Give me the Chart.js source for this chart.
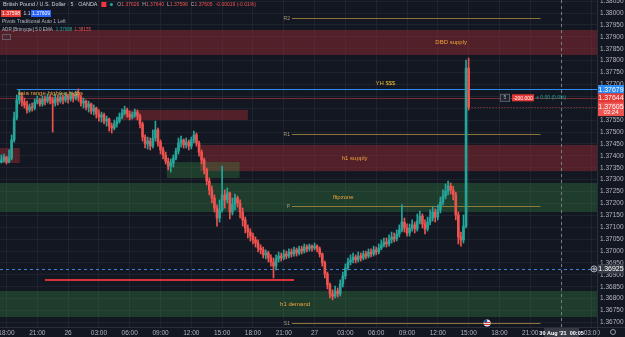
<!DOCTYPE html>
<html>
<head>
<meta charset="utf-8">
<script src="https://cdn.jsdelivr.net/npm/chart.js@4.4.0/dist/chart.umd.min.js"></script>
<style>
html,body{margin:0;padding:0;background:#131722;}
canvas{display:block;}
</style>
</head>
<body>
<canvas id="chart" width="625" height="337"></canvas>
<script>
// GBPUSD, 15-minute candles (time = hours after 25 Aug 18:00)
const firstTime = -0.5;
const barHours = 0.25;
const firstOpen = 1.37374;
const closes = [1.37383,1.37395,1.37374,1.37391,1.37467,1.37559,1.37635,1.37652,1.37626,1.37614,
1.37593,1.37605,1.37601,1.37626,1.37635,1.37618,1.37639,1.37630,1.37647,1.37635,
1.37622,1.37643,1.37630,1.37647,1.37635,1.37652,1.37639,1.37656,1.37643,1.37660,
1.37647,1.37622,1.37630,1.37605,1.37618,1.37588,1.37601,1.37576,1.37563,1.37572,
1.37546,1.37555,1.37525,1.37517,1.37534,1.37546,1.37563,1.37580,1.37593,1.37576,
1.37563,1.37572,1.37584,1.37567,1.37534,1.37479,1.37450,1.37462,1.37441,1.37475,
1.37509,1.37458,1.37425,1.37404,1.37378,1.37357,1.37370,1.37391,1.37420,1.37454,
1.37467,1.37446,1.37458,1.37441,1.37467,1.37488,1.37454,1.37416,1.37383,1.37341,
1.37294,1.37257,1.37223,1.37181,1.37139,1.37173,1.37236,1.37215,1.37244,1.37164,
1.37198,1.37223,1.37202,1.37164,1.37131,1.37097,1.37080,1.37063,1.37047,1.37034,
1.37013,1.37005,1.36984,1.36992,1.36971,1.36954,1.36937,1.36967,1.36979,1.36971,
1.36988,1.36979,1.36996,1.36988,1.37005,1.36992,1.37009,1.37000,1.37017,1.37009,
1.37021,1.37013,1.37021,1.37009,1.36988,1.36950,1.36904,1.36858,1.36820,1.36811,
1.36832,1.36820,1.36862,1.36895,1.36929,1.36954,1.36963,1.36975,1.36963,1.36979,
1.36971,1.36988,1.36979,1.36996,1.36988,1.37005,1.36996,1.37013,1.37026,1.37038,
1.37030,1.37047,1.37059,1.37051,1.37072,1.37089,1.37122,1.37097,1.37076,1.37097,
1.37110,1.37093,1.37126,1.37147,1.37114,1.37093,1.37122,1.37139,1.37164,1.37143,
1.37173,1.37206,1.37231,1.37252,1.37273,1.37257,1.37236,1.37152,1.37059,1.37047,
1.37105,1.37769,1.37605];
const highs = [1.37404,1.37408,1.37399,1.37425,1.37488,1.37584,1.37656,1.37677,1.37664,1.37643,
1.37630,1.37618,1.37622,1.37639,1.37652,1.37643,1.37652,1.37652,1.37660,1.37656,
1.37647,1.37660,1.37656,1.37664,1.37656,1.37664,1.37660,1.37668,1.37664,1.37672,
1.37681,1.37656,1.37643,1.37635,1.37630,1.37622,1.37614,1.37605,1.37593,1.37584,
1.37580,1.37567,1.37559,1.37538,1.37551,1.37563,1.37580,1.37597,1.37609,1.37601,
1.37588,1.37584,1.37597,1.37593,1.37576,1.37542,1.37488,1.37479,1.37475,1.37509,
1.37546,1.37517,1.37467,1.37437,1.37416,1.37391,1.37387,1.37404,1.37433,1.37475,
1.37483,1.37471,1.37475,1.37467,1.37479,1.37504,1.37496,1.37462,1.37425,1.37391,
1.37349,1.37307,1.37273,1.37236,1.37194,1.37215,1.37357,1.37257,1.37265,1.37248,
1.37223,1.37240,1.37231,1.37215,1.37181,1.37143,1.37110,1.37093,1.37076,1.37059,
1.37047,1.37026,1.37017,1.37005,1.37000,1.36984,1.36971,1.36984,1.36996,1.36992,
1.37005,1.37000,1.37009,1.37009,1.37017,1.37013,1.37021,1.37021,1.37030,1.37026,
1.37030,1.37026,1.37034,1.37026,1.37017,1.36992,1.36958,1.36912,1.36866,1.36837,
1.36853,1.36845,1.36879,1.36912,1.36946,1.36971,1.36984,1.36992,1.36984,1.36996,
1.36992,1.37000,1.37000,1.37009,1.37009,1.37021,1.37017,1.37030,1.37047,1.37055,
1.37055,1.37068,1.37080,1.37076,1.37089,1.37110,1.37194,1.37139,1.37114,1.37114,
1.37131,1.37122,1.37156,1.37168,1.37156,1.37131,1.37143,1.37173,1.37185,1.37177,
1.37194,1.37227,1.37257,1.37282,1.37294,1.37286,1.37273,1.37248,1.37164,1.37080,
1.37152,1.37803,1.37811];
const lows = [1.37370,1.37374,1.37366,1.37370,1.37383,1.37458,1.37551,1.37618,1.37609,1.37601,
1.37580,1.37584,1.37588,1.37593,1.37618,1.37609,1.37609,1.37614,1.37622,1.37618,
1.37500,1.37609,1.37614,1.37622,1.37618,1.37626,1.37622,1.37630,1.37626,1.37635,
1.37630,1.37609,1.37601,1.37593,1.37584,1.37576,1.37572,1.37559,1.37546,1.37542,
1.37534,1.37525,1.37504,1.37496,1.37509,1.37521,1.37538,1.37555,1.37572,1.37563,
1.37551,1.37555,1.37563,1.37551,1.37517,1.37462,1.37433,1.37429,1.37425,1.37433,
1.37462,1.37441,1.37408,1.37387,1.37366,1.37341,1.37332,1.37353,1.37383,1.37408,
1.37437,1.37433,1.37433,1.37425,1.37429,1.37454,1.37441,1.37399,1.37366,1.37324,
1.37278,1.37236,1.37202,1.37164,1.37105,1.37122,1.37164,1.37181,1.37202,1.37135,
1.37152,1.37173,1.37185,1.37139,1.37105,1.37076,1.37055,1.37042,1.37030,1.37017,
1.36996,1.36988,1.36971,1.36967,1.36954,1.36937,1.36887,1.36921,1.36954,1.36958,
1.36963,1.36967,1.36971,1.36975,1.36979,1.36979,1.36984,1.36988,1.36992,1.36996,
1.37000,1.37000,1.37005,1.36996,1.36975,1.36937,1.36887,1.36841,1.36803,1.36795,
1.36803,1.36807,1.36811,1.36849,1.36883,1.36921,1.36942,1.36950,1.36950,1.36954,
1.36958,1.36963,1.36967,1.36971,1.36975,1.36979,1.36984,1.36988,1.37005,1.37017,
1.37017,1.37021,1.37034,1.37038,1.37042,1.37059,1.37080,1.37080,1.37063,1.37063,
1.37084,1.37076,1.37084,1.37114,1.37097,1.37072,1.37084,1.37110,1.37126,1.37122,
1.37131,1.37160,1.37194,1.37219,1.37236,1.37240,1.37215,1.37131,1.37030,1.37021,
1.37034,1.37097,1.37593];

// axes
const timeTicks = [0,3,6,9,12,15,18,21,24,27,30,33,36,39,42,45,48,51,54,57];
const timeLabels = ['18:00','21:00','26','03:00','06:00','09:00','12:00','15:00','18:00','21:00','27','03:00','06:00','09:00','12:00','15:00','18:00','21:00','','03:00'];
const priceTicks = [1.3670,1.3675,1.3680,1.3685,1.3690,1.3695,1.3700,1.3705,1.3710,1.3715,1.3720,1.3725,1.3730,1.3735,1.3740,1.3745,1.3750,1.3755,1.3760,1.3765,1.3770,1.3775,1.3780,1.3785,1.3790,1.3795,1.3800,1.3805];
const timeMin = -0.63, timeMax = 57.5;
const priceMin = 1.36681, priceMax = 1.38055;

// drawn zones
const zoneNames = ['DBD supply','h1 supply','flipzone','h1 demand','','',''];
const zoneKind  = ['supply','supply','demand','demand','supply','supply','demand'];
const zoneHigh  = [1.37929,1.37446,1.37286,1.36832,1.37433,1.37593,1.37374];
const zoneLow   = [1.37824,1.37336,1.37164,1.36723,1.37370,1.37551,1.37307];
const zoneFrom  = [-1,18.85,-1,-1,-1,11.25,15.6];
const zoneTo    = [60,60,60,60,1.3,23.5,22.7];
const zoneLabelAt = [43.3,33.9,32.8,28.1,0,0,0];

// pivots
const pivotNames = ['R2','R1','P','S1'];
const pivotPrices = [1.37979,1.37492,1.37189,1.36698];
const pivotFrom = 27.8, pivotTo = 52.0;

// other levels
const yhPrice = 1.37679, yhFrom = 1.0;
const orderPrice = 1.37644;
const lastPrice = 1.37605;
const lowLinePrice = 1.36879, lowLineFrom = 3.75, lowLineTo = 28.0;
const crossPrice = 1.36925, crossTime = 54.0;
const eventTime = 46.8;

const UP = '#26a69a', DOWN = '#ef5350';
const FONT = '"Liberation Sans", Arial, sans-serif';

const times = closes.map((c, i) => firstTime + i * barHours);
const opens = closes.map((c, i) => i === 0 ? firstOpen : closes[i - 1]);
const colors = closes.map((c, i) => c >= opens[i] ? UP : DOWN);

const wickData = times.map((t, i) => ({x: t, y: [lows[i], highs[i]]}));
const bodyData = times.map((t, i) => ({x: t, y: [opens[i], closes[i]]}));

function box(ctx, x, y, w, h, bg, text, fg, font) {
    ctx.fillStyle = bg;
    ctx.fillRect(x, y, w, h);
    ctx.fillStyle = fg;
    ctx.font = font;
    ctx.textAlign = 'center';
    ctx.textBaseline = 'middle';
    ctx.fillText(text, x + w / 2, y + h / 2 + 0.5);
}

const overlays = {
    id: 'overlays',
    beforeDatasetsDraw(chart) {
        const {ctx, chartArea: a, scales: {x, y}} = chart;
        ctx.save();
        ctx.beginPath(); ctx.rect(a.left, a.top, a.width, a.height); ctx.clip();

        zoneNames.forEach((n, i) => {
            const x0 = x.getPixelForValue(zoneFrom[i]), x1 = x.getPixelForValue(zoneTo[i]);
            const y0 = y.getPixelForValue(zoneHigh[i]), y1 = y.getPixelForValue(zoneLow[i]);
            ctx.fillStyle = zoneKind[i] === 'supply' ? 'rgba(160,45,52,0.45)' : 'rgba(60,150,70,0.30)';
            ctx.fillRect(x0, y0, x1 - x0, y1 - y0);
        });

        // pivots
        ctx.lineWidth = 1;
        ctx.strokeStyle = 'rgba(170,140,60,0.8)';
        ctx.font = '5px ' + FONT;
        ctx.textBaseline = 'middle';
        ctx.textAlign = 'right';
        pivotNames.forEach((n, i) => {
            const py = Math.round(y.getPixelForValue(pivotPrices[i])) + 0.5;
            const xa = x.getPixelForValue(pivotFrom), xb = x.getPixelForValue(pivotTo);
            ctx.beginPath(); ctx.moveTo(xa, py); ctx.lineTo(xb, py); ctx.stroke();
            ctx.fillStyle = '#a59a7a';
            ctx.fillText(n, xa - 2, py);
        });

        // order line + yesterday high
        let py = Math.round(y.getPixelForValue(orderPrice)) + 0.5;
        ctx.strokeStyle = 'rgba(200,60,60,0.55)';
        ctx.beginPath(); ctx.moveTo(a.left, py); ctx.lineTo(a.right, py); ctx.stroke();
        py = Math.round(y.getPixelForValue(yhPrice)) + 0.5;
        ctx.strokeStyle = '#2a8af0';
        ctx.beginPath(); ctx.moveTo(x.getPixelForValue(yhFrom), py); ctx.lineTo(a.right, py); ctx.stroke();

        // red low line
        py = y.getPixelForValue(lowLinePrice);
        ctx.strokeStyle = '#d8323a';
        ctx.lineWidth = 2;
        ctx.beginPath(); ctx.moveTo(x.getPixelForValue(lowLineFrom), py); ctx.lineTo(x.getPixelForValue(lowLineTo), py); ctx.stroke();

        // crosshair / dashed horizontal
        ctx.lineWidth = 1;
        ctx.setLineDash([3, 3]);
        py = Math.round(y.getPixelForValue(crossPrice)) + 0.5;
        ctx.strokeStyle = '#3f7fd6';
        ctx.beginPath(); ctx.moveTo(a.left, py); ctx.lineTo(a.right, py); ctx.stroke();
        const cx = Math.round(x.getPixelForValue(crossTime)) + 0.5;
        ctx.strokeStyle = '#787b86';
        ctx.beginPath(); ctx.moveTo(cx, a.top); ctx.lineTo(cx, a.bottom); ctx.stroke();
        // last price line
        py = Math.round(y.getPixelForValue(lastPrice)) + 0.5;
        ctx.strokeStyle = 'rgba(239,83,80,0.7)';
        ctx.setLineDash([1, 2]);
        ctx.beginPath(); ctx.moveTo(x.getPixelForValue(times[times.length - 1]), py); ctx.lineTo(a.right, py); ctx.stroke();
        ctx.setLineDash([]);
        ctx.restore();
    },
    afterDatasetsDraw(chart) {
        const {ctx, chartArea: a, scales: {x, y}} = chart;
        ctx.save();
        ctx.font = '6px ' + FONT;
        ctx.fillStyle = '#f0a33a';
        ctx.textAlign = 'center';
        ctx.textBaseline = 'middle';
        zoneNames.forEach((n, i) => {
            if (!n) return;
            ctx.fillText(n, x.getPixelForValue(zoneLabelAt[i]), y.getPixelForValue((zoneHigh[i] + zoneLow[i]) / 2));
        });
        ctx.fillStyle = '#e8b830';
        ctx.fillText('YH $$$', x.getPixelForValue(36.9), y.getPixelForValue(yhPrice) - 6);
        ctx.textAlign = 'left';
        ctx.fillStyle = '#f0a33a';
        ctx.fillText('asia range high/eq highs', x.getPixelForValue(yhFrom) + 1, y.getPixelForValue(yhPrice) + 4);

        // order labels
        const oy = y.getPixelForValue(orderPrice);
        ctx.strokeStyle = '#5d606b';
        ctx.fillStyle = '#1e222d';
        ctx.fillRect(500.5, oy - 3.5, 9, 7);
        ctx.strokeRect(500.5, oy - 3.5, 9, 7);
        ctx.fillStyle = '#b2b5be';
        ctx.font = '5px ' + FONT;
        ctx.textAlign = 'center';
        ctx.fillText('5', 505, oy);
        box(ctx, 512, oy - 3.5, 22, 7, '#e53935', '-200.000', '#ffffff', '5px ' + FONT);
        ctx.fillStyle = '#26a69a';
        ctx.textAlign = 'left';
        ctx.fillText('+ 0.00 (0.0%)', 536, oy);

        // economic event icon
        const ex = x.getPixelForValue(eventTime), ey = a.bottom - 4;
        ctx.beginPath(); ctx.arc(ex, ey, 3.5, 0, Math.PI * 2); ctx.fillStyle = '#e8e8e8'; ctx.fill();
        ctx.fillStyle = '#d32f2f';
        ctx.fillRect(ex - 3, ey - 1, 6, 1); ctx.fillRect(ex - 3, ey + 1, 6, 1);
        ctx.fillStyle = '#1e4fa0';
        ctx.fillRect(ex - 3, ey - 3, 3, 2.5);
        ctx.restore();
    },
    afterDraw(chart) {
        const {ctx, chartArea: a, scales: {x, y}} = chart;
        ctx.save();
        // axis separators
        ctx.strokeStyle = '#2a2e39';
        ctx.lineWidth = 1;
        ctx.beginPath();
        ctx.moveTo(a.right + 0.5, 0); ctx.lineTo(a.right + 0.5, 337);
        ctx.moveTo(0, a.bottom + 0.5); ctx.lineTo(625, a.bottom + 0.5);
        ctx.stroke();

        const f = '7px ' + FONT;
        const ax = a.right + 1, aw = 625 - a.right - 2;
        box(ctx, ax, y.getPixelForValue(yhPrice) - 4.5, aw, 9, '#2a8af0', '1.37679', '#ffffff', f);
        box(ctx, ax, y.getPixelForValue(orderPrice) - 4.5, aw, 9, '#e53935', '1.37644', '#ffffff', f);
        const ly = y.getPixelForValue(lastPrice);
        ctx.fillStyle = '#ef5350';
        ctx.fillRect(ax, ly - 5, aw, 14);
        ctx.fillStyle = '#ffffff';
        ctx.font = f; ctx.textAlign = 'center'; ctx.textBaseline = 'middle';
        ctx.fillText('1.37605', ax + aw / 2, ly - 0.5);
        ctx.font = '6px ' + FONT;
        ctx.fillText('03:24', ax + aw / 2, ly + 5.5);
        const cy = y.getPixelForValue(crossPrice);
        box(ctx, ax, cy - 4.5, aw, 9, '#363a45', '1.36925', '#ffffff', f);
        ctx.strokeStyle = '#b2b5be';
        ctx.beginPath(); ctx.arc(a.right - 3, cy, 3, 0, Math.PI * 2); ctx.stroke();
        ctx.beginPath(); ctx.moveTo(a.right - 5, cy); ctx.lineTo(a.right - 1, cy); ctx.moveTo(a.right - 3, cy - 2); ctx.lineTo(a.right - 3, cy + 2); ctx.stroke();
        const cx = x.getPixelForValue(crossTime);
        box(ctx, cx - 17, a.bottom + 1, 35, 9, '#363a45', "30 Aug '21  00:05", '#ffffff', 'bold 5.5px ' + FONT);
        // gear
        ctx.strokeStyle = '#9598a1';
        ctx.beginPath(); ctx.arc(613, 332, 2.5, 0, Math.PI * 2); ctx.stroke();

        // legend / header
        ctx.textAlign = 'left';
        ctx.textBaseline = 'middle';
        ctx.font = '5.4px ' + FONT;
        ctx.fillStyle = '#d1d4dc';
        const title = 'British Pound / U.S. Dollar \u00b7 5 \u00b7 OANDA';
        ctx.fillText(title, 3, 4.5);
        let hx = 3 + ctx.measureText(title).width + 4;
        ctx.fillStyle = '#f23645';
        ctx.fillRect(hx, 2, 5, 5);
        hx += 10;
        ctx.fillStyle = '#26a69a';
        ctx.beginPath(); ctx.arc(hx, 4.5, 1.5, 0, Math.PI * 2); ctx.fill();
        ctx.font = '5px ' + FONT;
        let tx = hx + 6;
        [['O', '1.37626'], ['H', '1.37640'], ['L', '1.37598'], ['C', '1.37605'], ['', '-0.00019 (-0.01%)']].forEach(p => {
            ctx.fillStyle = '#b2b5be';
            ctx.fillText(p[0], tx, 4.5);
            tx += ctx.measureText(p[0]).width;
            ctx.fillStyle = '#ef5350';
            ctx.fillText(p[1], tx, 4.5);
            tx += ctx.measureText(p[1]).width + 3;
        });
        box(ctx, 1, 10, 20, 7, '#e53935', '1.37598', '#ffffff', '5px ' + FONT);
        ctx.fillStyle = '#d1d4dc'; ctx.font = '5px ' + FONT; ctx.textAlign = 'left';
        ctx.fillText('1.1', 23.5, 13.8);
        box(ctx, 31, 10, 20, 7, '#2962ff', '1.37609', '#ffffff', '5px ' + FONT);
        ctx.fillStyle = '#b2b5be'; ctx.textAlign = 'left'; ctx.font = '5px ' + FONT;
        ctx.fillText('Pivots Traditional Auto 1 Left', 2, 22);
        ctx.font = '4.6px ' + FONT;
        const adr = 'ADR [Brtmyqte] 5 0 EMA';
        ctx.fillText(adr, 2, 29.5);
        let ax2 = 2 + ctx.measureText(adr).width + 3;
        ctx.fillStyle = '#26a69a';
        ctx.fillText('1.37088', ax2, 29.5);
        ax2 += ctx.measureText('1.37088').width + 2;
        ctx.fillStyle = '#ef5350';
        ctx.fillText('1.38155', ax2, 29.5);
        ctx.strokeStyle = '#5d606b';
        ctx.strokeRect(2.5, 34.5, 8, 5);
        ctx.restore();
    }
};

new Chart(document.getElementById('chart'), {
    type: 'bar',
    data: {
        datasets: [
            {data: wickData, backgroundColor: colors, barThickness: 1, grouped: false, order: 2},
            {data: bodyData, backgroundColor: colors, barThickness: 2, grouped: false, minBarLength: 1, order: 1}
        ]
    },
    options: {
        responsive: false,
        animation: false,
        layout: {padding: 0},
        plugins: {legend: {display: false}, tooltip: {enabled: false}},
        scales: {
            x: {
                type: 'linear',
                min: timeMin,
                max: timeMax,
                offset: false,
                grid: {color: 'rgba(42,46,57,0.55)', offset: false, drawTicks: false},
                border: {display: false},
                afterBuildTicks: s => { s.ticks = timeTicks.map(v => ({value: v})); },
                afterFit: s => { s.height = 10; s.paddingLeft = 0; s.paddingRight = 0; },
                ticks: {
                    autoSkip: false, maxRotation: 0, padding: 2,
                    color: '#b2b5be', font: {size: 6.5, family: FONT},
                    callback: (v, i) => timeLabels[i]
                }
            },
            y: {
                position: 'right',
                min: priceMin,
                max: priceMax,
                grid: {color: 'rgba(42,46,57,0.55)', drawTicks: false},
                border: {display: false},
                afterBuildTicks: s => { s.ticks = priceTicks.map(v => ({value: v})); },
                afterFit: s => { s.width = 28; s.paddingTop = 0; s.paddingBottom = 0; },
                ticks: {
                    padding: 3, color: '#b2b5be', font: {size: 6.5, family: FONT},
                    callback: v => v.toFixed(5)
                }
            }
        }
    },
    plugins: [overlays]
});
</script>
</body>
</html>
